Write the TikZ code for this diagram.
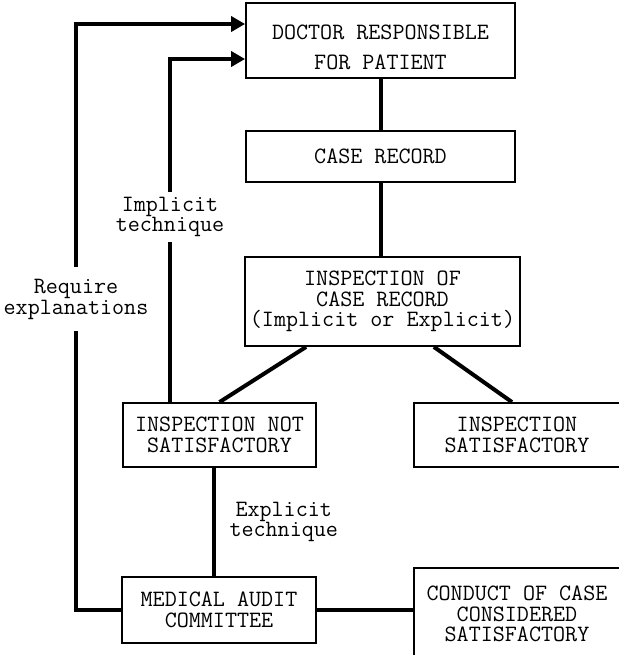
\documentclass[tikz,border=0pt]{standalone}
\usetikzlibrary{arrows.meta}
\begin{document}
\begin{tikzpicture}
		[x=0.5pt,y=-0.5pt,
		 every node/.style={font=\ttfamily\fontsize{11.7}{10.25}\selectfont,align=center},
		 box/.style={draw,line width=0.9pt,inner sep=0pt},
		 lbl/.style={fill=white,inner xsep=2pt,inner ysep=2.5pt},
		 link/.style={line width=2pt},
		 arr/.style={link,-{Triangle[length=7pt,width=7.5pt]}}]
			\useasboundingbox (0,0) rectangle (618,655);
			\node [box,minimum width=134.5pt,minimum height=37.5pt] (doc) at (380.5,40.5) {\rule{0pt}{14pt}DOCTOR RESPONSIBLE\\[5pt]FOR PATIENT};
			\node [box,minimum width=134.5pt,minimum height=25.5pt] (rec) at (380.5,156.5) {CASE RECORD};
			\node [box,minimum width=137.5pt,minimum height=44.5pt] (insp) at (382.5,301.5) {INSPECTION OF\\CASE RECORD\\(Implicit or Explicit)};
			\node [box,minimum width=96.5pt,minimum height=32pt] (nsat) at (219.5,435) {INSPECTION NOT\\SATISFACTORY};
			\node [box,minimum width=103pt,minimum height=32pt] (sat) at (517,435) {INSPECTION\\SATISFACTORY};
			\node [box,minimum width=97pt,minimum height=33pt] (mac) at (219,610) {MEDICAL AUDIT\\COMMITTEE};
			\node [box,minimum width=103pt,minimum height=46pt] (ccs) at (517,614) {CONDUCT OF CASE\\CONSIDERED\\SATISFACTORY};
			\coordinate (lc) at (76,24);
			\coordinate (ic) at (170,59);
			\draw [link] (doc.south) -- (rec.north);
			\draw [link] (rec.south) -- (rec.south |- insp.north);
			\draw [link] ([xshift=31pt]insp.south west) -- (nsat.north);
			\draw [link] ([xshift=-43.5pt]insp.south east) -- ([xshift=-2.5pt]sat.north);
			\draw [link] ([xshift=-3pt]nsat.south) -- node[right=7pt,inner sep=0pt]{Explicit\\technique} ([xshift=-3pt]nsat.south |- mac.north);
			\draw [link] (mac.east) -- (mac.east -| ccs.west);
			\draw [arr] (nsat.north -| ic) -- node[lbl,pos=0.54]{Implicit\\technique} (ic) -- (ic -| doc.west);
			\draw [arr] (mac.west) -- (mac.west -| lc) -- node[lbl,pos=0.53,inner ysep=6pt]{Require\\explanations} (lc) -- (lc -| doc.west);
\end{tikzpicture}
\end{document}
